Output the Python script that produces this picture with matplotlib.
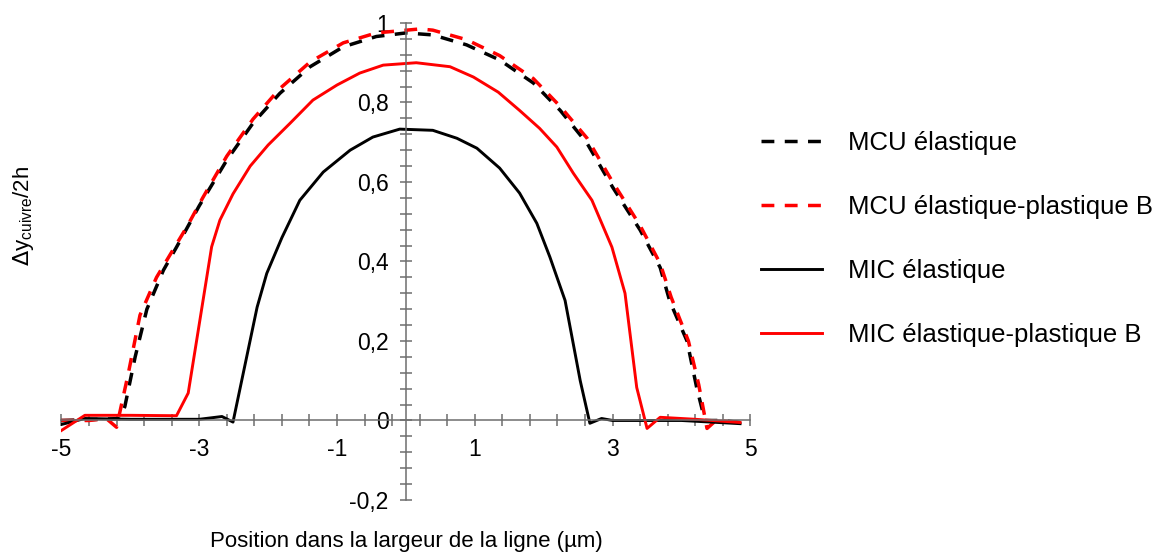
import numpy as np
import matplotlib
matplotlib.use("Agg")
import matplotlib.pyplot as plt
from matplotlib.ticker import FixedLocator, FuncFormatter

plt.rcParams['font.family'] = ['Liberation Sans', 'DejaVu Sans']

# MCU élastique (black dashed)
x_mcu_el = [-5.0, -4.6, -4.15, -4.08, -3.93, -3.76, -3.52, -3.33, -3.0, -2.6, -2.22, -1.83,
            -1.39, -0.91, -0.43, 0.0, 0.39, 0.88, 1.36, 1.85, 2.24, 2.63, 3.0, 3.4, 3.69,
            3.83, 4.08, 4.22, 4.34, 4.6, 4.85]
y_mcu_el = [0.0, 0.002, 0.005, 0.035, 0.16, 0.28, 0.378, 0.436, 0.54, 0.655, 0.748, 0.823,
            0.89, 0.94, 0.966, 0.975, 0.97, 0.945, 0.907, 0.849, 0.78, 0.697, 0.587, 0.479, 0.385,
            0.30, 0.20, 0.083, 0.0, 0.0, -0.005]

# MCU élastique-plastique B (red dashed)
x_mcu_pl = [-5.0, -4.6, -4.35, -4.2, -4.03, -3.86, -3.62, -3.43, -3.18, -2.95, -2.6, -2.22,
            -1.83, -1.39, -0.91, -0.43, 0.2, 0.39, 0.88, 1.36, 1.85, 2.24, 2.63, 3.0, 3.4,
            3.69, 3.85, 4.1, 4.25, 4.37, 4.5, 4.85]
y_mcu_pl = [0.0, 0.0, 0.005, -0.017, 0.118, 0.265, 0.36, 0.415, 0.487, 0.56, 0.665, 0.758,
            0.835, 0.902, 0.95, 0.975, 0.985, 0.982, 0.958, 0.918, 0.86, 0.79, 0.71, 0.60, 0.49,
            0.395, 0.31, 0.20, 0.09, -0.02, 0.0, -0.005]

# MIC élastique (black solid)
x_mic_el = [-5.0, -4.66, -4.0, -3.0, -2.67, -2.51, -2.16, -2.02, -1.8, -1.54, -1.2, -0.81,
            -0.48, -0.09, 0.39, 0.74, 1.03, 1.36, 1.65, 1.90, 2.09, 2.31, 2.53, 2.67, 2.84,
            3.0, 4.0, 4.85]
y_mic_el = [-0.01, 0.005, 0.003, 0.003, 0.01, -0.004, 0.285, 0.37, 0.46, 0.554, 0.625, 0.68,
            0.713, 0.733, 0.73, 0.71, 0.685, 0.635, 0.572, 0.496, 0.411, 0.302, 0.10, -0.007, 0.005,
            0.0, 0.0, -0.008]

# MIC élastique-plastique B (red solid)
x_mic_pl = [-5.0, -4.66, -4.0, -3.33, -3.16, -2.82, -2.70, -2.51, -2.26, -2.0, -1.68, -1.35,
            -1.0, -0.67, -0.33, 0.15, 0.64, 0.98, 1.34, 1.65, 1.94, 2.19, 2.43, 2.70, 2.99,
            3.18, 3.35, 3.50, 3.69, 4.2, 4.85]
y_mic_pl = [-0.025, 0.013, 0.013, 0.012, 0.069, 0.437, 0.504, 0.57, 0.64, 0.693, 0.748, 0.806,
            0.844, 0.874, 0.894, 0.90, 0.89, 0.864, 0.826, 0.78, 0.735, 0.688, 0.622, 0.554, 0.436,
            0.32, 0.083, -0.02, 0.008, 0.003, -0.005]

x_major = [-5, -3, -1, 1, 3, 5]
y_major = [-0.2, 0, 0.2, 0.4, 0.6, 0.8, 1.0]

fig = plt.figure(figsize=(11.55, 5.54), dpi=100)
ax = fig.add_axes([0.0532, 0.0975, 0.5965, 0.861])

dash = (3.7, 3.0)
ax.plot(x_mcu_el, y_mcu_el, color='black', lw=2.5, dashes=dash, label='MCU élastique')
ax.plot(x_mcu_pl, y_mcu_pl, color='red', lw=2.5, dashes=dash, label='MCU élastique-plastique B')
ax.plot(x_mic_el, y_mic_el, color='black', lw=2.1, label='MIC élastique')
ax.plot(x_mic_pl, y_mic_pl, color='red', lw=2.1, label='MIC élastique-plastique B')

ax.set_xlim(-5, 5)
ax.set_ylim(-0.2, 1.0)

# axes crossing at the origin
ax.spines['left'].set_position(('data', 0))
ax.spines['bottom'].set_position(('data', 0))
ax.spines['top'].set_visible(False)
ax.spines['right'].set_visible(False)
for s in ('left', 'bottom'):
    ax.spines[s].set_color('#6e6e6e')
    ax.spines[s].set_linewidth(1.1)

ax.xaxis.set_major_locator(FixedLocator(x_major))
ax.xaxis.set_minor_locator(FixedLocator(np.arange(-5, 5.01, 0.4)))
ax.yaxis.set_major_locator(FixedLocator(y_major))
ax.yaxis.set_minor_locator(FixedLocator(np.arange(-0.2, 1.01, 0.04)))

fmt = FuncFormatter(lambda v, p: ('%g' % round(v, 2)).replace('.', ','))
ax.xaxis.set_major_formatter(fmt)
ax.yaxis.set_major_formatter(fmt)

ax.tick_params(which='both', direction='inout', length=9, width=1.1, color='#6e6e6e',
               labelsize=16.5, pad=8)

fig.text(0.02, 1 - 216 / 554, r'$\Delta$y$_{\mathregular{cuivre}}$/2h', rotation=90,
         ha='center', va='center', fontsize=16)
fig.text(406 / 1155, 1 - 542 / 554, 'Position dans la largeur de la ligne (µm)',
         ha='center', va='center', fontsize=16)

ax.legend(loc='center left', bbox_to_anchor=(0.639, 1 - 239 / 554), bbox_transform=fig.transFigure,
          frameon=False, fontsize=18.5, handlelength=2.37, handletextpad=1.0, labelspacing=1.55)

fig.savefig('out.png', dpi=100)
